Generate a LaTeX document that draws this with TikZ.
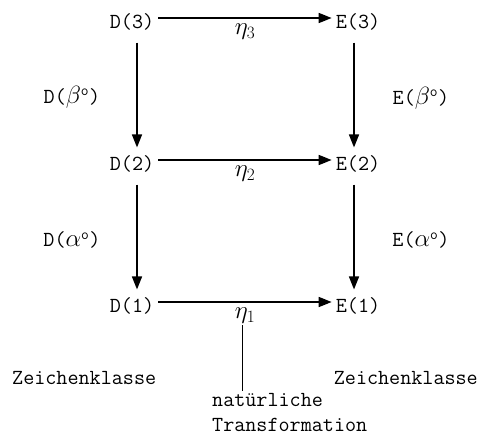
\documentclass[tikz,border=0pt]{standalone}
\usepackage{fontspec}
\usetikzlibrary{arrows.meta,positioning}

\tikzstyle{obj} = [font=\fontsize{21.5}{25}\selectfont\ttfamily, inner sep=4pt]
\tikzstyle{lab} = [font=\fontsize{21.5}{25}\selectfont\ttfamily, inner sep=2pt]
\tikzstyle{etalab} = [font=\fontsize{27}{30}\selectfont, inner sep=1pt]
\tikzstyle{map} = [line width=1.6pt, -{Triangle[length=13pt,width=10pt]}]

\begin{document}
\begin{tikzpicture}[x=1pt, y=-1pt]
\useasboundingbox (0,0) rectangle (484,436);
% objects of the two functors
\node[obj] (D3) at (132,22) {D(3)};
\node[obj] (E3) at (358,22) {E(3)};
\node[obj] (D2) at (132,164) {D(2)};
\node[obj] (E2) at (358,164) {E(2)};
\node[obj] (D1) at (132,306) {D(1)};
\node[obj] (E1) at (358,306) {E(1)};
% components eta
\draw[map] ([yshift=4pt]D3.east) -- node[etalab, below=4pt] (eta3) {$\eta_3$} ([yshift=4pt]E3.west);
\draw[map] ([yshift=4pt]D2.east) -- node[etalab, below=4pt] (eta2) {$\eta_2$} ([yshift=4pt]E2.west);
\draw[map] ([yshift=4pt]D1.east) -- node[etalab, below=4pt] (eta1) {$\eta_1$} ([yshift=4pt]E1.west);
% vertical maps
\draw[map] ([xshift=5pt,yshift=-8pt]D3.south) -- ([xshift=5pt,yshift=4pt]D2.north);
\draw[map] ([xshift=5pt,yshift=-8pt]D2.south) -- ([xshift=5pt,yshift=4pt]D1.north);
\draw[map] ([xshift=-4pt,yshift=-8pt]E3.south) -- ([xshift=-4pt,yshift=4pt]E2.north);
\draw[map] ([xshift=-4pt,yshift=-8pt]E2.south) -- ([xshift=-4pt,yshift=4pt]E1.north);
\node[lab] (Dbeta) at (72,97) {D({\fontsize{24}{24}\selectfont$\beta$}\textsuperscript{o})};
\node[lab] (Ebeta) at (421,98) {E({\fontsize{24}{24}\selectfont$\beta$}\textsuperscript{o})};
\node[lab] (Dalpha) at (72,240) {D({\fontsize{24}{24}\selectfont$\alpha$}\textsuperscript{o})};
\node[lab] (Ealpha) at (421,240) {E({\fontsize{24}{24}\selectfont$\alpha$}\textsuperscript{o})};
% bottom labels
\node[lab, anchor=east] (zkD) at (D1.east |- 0,378) {Zeichenklasse};
\node[lab, anchor=west] (zkE) at (E1.west |- 0,378) {Zeichenklasse};
\node[lab, anchor=north west, align=left] (trans) at (210,391) {natürliche\\Transformation};
\draw[line width=1pt] ([xshift=-3pt]eta1.south) -- ([xshift=-3pt]eta1.south |- trans.north);
\end{tikzpicture}
\end{document}
